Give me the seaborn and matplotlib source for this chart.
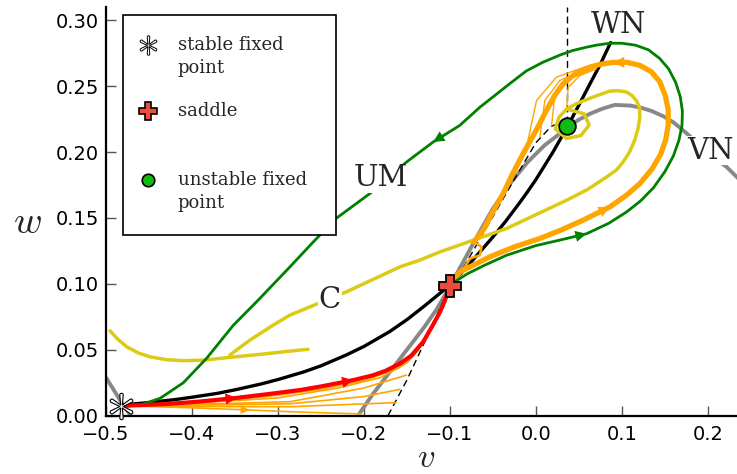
import matplotlib
matplotlib.use('Agg')
import matplotlib.pyplot as plt
import seaborn as sns
from matplotlib.patches import Rectangle

# ---------------- data ----------------
# w-nullcline (black, "WN")
wn_v = [-0.482, -0.45, -0.42, -0.40, -0.37, -0.35, -0.32, -0.30, -0.27, -0.25, -0.22, -0.20,
        -0.17, -0.15, -0.13, -0.115, -0.10, -0.085, -0.07, -0.05, -0.035, -0.02, -0.01,
        0.0, 0.01, 0.02, 0.037, 0.05, 0.062, 0.075, 0.087]
wn_w = [0.0080, 0.0100, 0.0122, 0.0140, 0.0170, 0.0196, 0.0240, 0.0274, 0.0332, 0.0378,
        0.0462, 0.0525, 0.0638, 0.0728, 0.0830, 0.0910, 0.0990, 0.1095, 0.1205, 0.1355,
        0.1475, 0.1605, 0.1695, 0.1790, 0.1895, 0.2000, 0.2195, 0.2355, 0.2505, 0.2665,
        0.2830]

# v-nullcline (gray, "VN"): left branch and right branch
vn_left_v = [-0.500, -0.4905, -0.481, -0.471, -0.467]
vn_left_w = [0.029, 0.019, 0.009, 0.000, -0.004]
vn_right_v = [-0.209, -0.19, -0.17, -0.15, -0.13, -0.115, -0.10, -0.085, -0.07, -0.05,
              -0.03, -0.01, 0.01, 0.025, 0.037, 0.05, 0.063, 0.078, 0.092, 0.11, 0.123,
              0.135, 0.148, 0.16, 0.17, 0.18, 0.19, 0.20, 0.211, 0.222, 0.24]
vn_right_w = [-0.002, 0.016, 0.033, 0.050, 0.067, 0.081, 0.098, 0.116, 0.134, 0.157,
              0.176, 0.192, 0.205, 0.2125, 0.219, 0.2245, 0.229, 0.233, 0.2357, 0.2352,
              0.2335, 0.231, 0.2272, 0.2225, 0.2172, 0.2115, 0.2055, 0.1995, 0.194,
              0.1886, 0.177]

# dashed guide lines
dash_v = [-0.172, -0.15, -0.125, -0.10, -0.088, -0.06, -0.03, 0.0, 0.018, 0.03]
dash_w = [0.000, 0.027, 0.062, 0.098, 0.108, 0.1397, 0.1736, 0.207, 0.2195, 0.2225]
vert_v = [0.0365, 0.0365]
vert_w = [0.222, 0.310]

# unstable manifold (green, "UM")
um_v = [-0.098, -0.08, -0.06, -0.034, 0.0, 0.03, 0.059, 0.085, 0.1055, 0.122, 0.137,
        0.150, 0.160, 0.1665, 0.170, 0.1705, 0.168, 0.1625, 0.1545, 0.144, 0.131, 0.116,
        0.100, 0.086, 0.070, 0.059, 0.043, 0.028, 0.008, -0.011, -0.03, -0.05, -0.065,
        -0.0884, -0.1194, -0.1504, -0.193, -0.2326, -0.26, -0.286, -0.3229, -0.352,
        -0.383, -0.41, -0.437, -0.46, -0.48]
um_w = [0.1000, 0.1075, 0.1140, 0.1217, 0.1290, 0.1335, 0.1380, 0.1460, 0.1545, 0.1630,
        0.1730, 0.1850, 0.1970, 0.2090, 0.2200, 0.2310, 0.2420, 0.2530, 0.2630, 0.2710,
        0.2775, 0.2810, 0.2825, 0.2825, 0.2810, 0.2795, 0.2770, 0.2735, 0.2680, 0.2615,
        0.2520, 0.2417, 0.2340, 0.2202, 0.2076, 0.1924, 0.1685, 0.1495, 0.1310, 0.1129,
        0.0877, 0.0685, 0.0435, 0.0250, 0.0132, 0.0081, 0.0072]

# red trajectory between saddle and stable point
red_v = [-0.100, -0.106, -0.112, -0.12, -0.131, -0.145, -0.158, -0.175, -0.19, -0.2124,
         -0.2473, -0.274, -0.31, -0.348, -0.39, -0.43, -0.48]
red_w = [0.098, 0.087, 0.078, 0.0685, 0.056, 0.0455, 0.0395, 0.034, 0.0305, 0.027,
         0.0225, 0.0195, 0.0165, 0.0135, 0.0108, 0.0088, 0.0075]

# thick orange loop
loop_v = [-0.098, -0.0884, -0.0535, -0.025, 0.0047, 0.03, 0.055, 0.086, 0.105, 0.121,
          0.135, 0.145, 0.151, 0.154, 0.154, 0.1505, 0.144, 0.134, 0.121, 0.106, 0.090,
          0.075, 0.063, 0.045, 0.0318, 0.022, 0.0124, 0.0, -0.0147, -0.027, -0.038,
          -0.05, -0.0613, -0.072]
loop_w = [0.100, 0.109, 0.1205, 0.128, 0.1344, 0.141, 0.1483, 0.1583, 0.167, 0.176,
          0.187, 0.198, 0.209, 0.2205, 0.232, 0.243, 0.2535, 0.261, 0.2657, 0.268, 0.268,
          0.2665, 0.2644, 0.259, 0.2518, 0.243, 0.2316, 0.216, 0.1988, 0.1835, 0.1685,
          0.1545, 0.1407, 0.132]
hook_v = [-0.072, -0.0632, -0.065, -0.0767, -0.085]
hook_w = [0.132, 0.128, 0.1217, 0.1192, 0.110]

# thin orange trajectories leaving the unstable point
t1_v = [0.0357, 0.0376, 0.0512, 0.0705]
t1_w = [0.2316, 0.249, 0.258, 0.263]
t2_v = [0.0182, 0.022, 0.0357, 0.0667]
t2_w = [0.220, 0.2417, 0.2543, 0.263]
t3_v = [0.0047, 0.0105, 0.028, 0.059]
t3_w = [0.2114, 0.2392, 0.2543, 0.263]
t4_v = [-0.0108, 0.0008, 0.024, 0.059]
t4_w = [0.2038, 0.239, 0.2568, 0.265]

# thin orange trajectories near the stable point
f1_v = [-0.127, -0.14, -0.16, -0.20, -0.25, -0.30, -0.38, -0.48]
f1_w = [0.0594, 0.047, 0.036, 0.0265, 0.020, 0.0155, 0.0105, 0.0075]
f2_v = [-0.137, -0.15, -0.18, -0.23, -0.30, -0.40, -0.48]
f2_w = [0.0492, 0.040, 0.029, 0.021, 0.0135, 0.0095, 0.0075]
f3_v = [-0.1504, -0.20, -0.286, -0.40, -0.48]
f3_w = [0.0308, 0.021, 0.0106, 0.0085, 0.0075]
f4_v = [-0.158, -0.20, -0.286, -0.40, -0.48]
f4_w = [0.020, 0.0145, 0.009, 0.008, 0.0075]
f5_v = [-0.1628, -0.286, -0.40, -0.48]
f5_w = [0.0099, 0.0068, 0.007, 0.0075]
f6_v = [-0.48, -0.40, -0.333, -0.286, -0.2027]
f6_w = [0.0075, 0.006, 0.0043, 0.003, 0.0013]

# yellow trajectories
y1_v = [-0.4953, -0.487, -0.476, -0.462, -0.449, -0.43, -0.41, -0.3849, -0.3597, -0.321,
        -0.2744, -0.265]
y1_w = [0.0644, 0.0585, 0.0523, 0.0475, 0.0447, 0.0425, 0.0417, 0.0422, 0.0440, 0.0465,
        0.0498, 0.0503]
y2_v = [-0.356, -0.3326, -0.3055, -0.286, -0.2201, -0.158, -0.1349, -0.1116, -0.034, 0.0357,
        0.06, 0.0822, 0.094, 0.1015, 0.109, 0.115, 0.119, 0.121, 0.1205, 0.117, 0.1115,
        0.1055, 0.096, 0.086, 0.0667, 0.0473, 0.0357, 0.056, 0.062, 0.0525, 0.0357,
        0.0225, 0.027, 0.0357]
y2_w = [0.046, 0.0573, 0.0687, 0.0763, 0.094, 0.1129, 0.118, 0.1242, 0.142, 0.1634,
        0.1715, 0.181, 0.1865, 0.1924, 0.200, 0.2089, 0.218, 0.2265, 0.234, 0.239, 0.243,
        0.2455, 0.2465, 0.2462, 0.2417, 0.2367, 0.2325, 0.229, 0.2205, 0.2125, 0.2102,
        0.2175, 0.2265, 0.2325]

# fixed points
stable_pt = (-0.4826, 0.0074)
saddle_pt = (-0.100, 0.098)
unstable_pt = (0.0365, 0.2200)

legend_labels = ["stable fixed\npoint", "saddle", "unstable fixed\npoint"]
curve_labels = ["UM", "C", "WN", "VN"]
x_ticks = [-0.5, -0.4, -0.3, -0.2, -0.1, 0.0, 0.1, 0.2]
y_ticks = [0.00, 0.05, 0.10, 0.15, 0.20, 0.25, 0.30]

# ---------------- styling ----------------
sns.set_theme(style='ticks')
plt.rcParams['font.family'] = ['DejaVu Sans']
plt.rcParams['mathtext.fontset'] = 'cm'

ORANGE = '#ffa500'
GREEN = '#008000'
YELLOW = '#dccb14'
GRAY = '#888888'

fig = plt.figure(figsize=(7.37, 4.74), dpi=100)
ax = fig.add_axes([0.1438, 0.1230, 0.8562, 0.8623])


def line(v, w, color, lw, z, **kw):
    sns.lineplot(x=v, y=w, sort=False, estimator=None, color=color,
                 linewidth=lw, ax=ax, zorder=z, solid_joinstyle='round',
                 solid_capstyle='round', **kw)


def arrow(v, w, i, j, color, size=20, z=5):
    # arrow head at point j, coming from point i of the same curve
    ax.annotate('', xy=(v[j], w[j]), xytext=(v[i], w[i]),
                arrowprops=dict(arrowstyle='-|>', color=color, lw=0,
                                mutation_scale=size, shrinkA=0, shrinkB=0),
                zorder=z)


line(vn_left_v, vn_left_w, GRAY, 2.8, 1)
line(vn_right_v, vn_right_w, GRAY, 2.8, 1)
line(wn_v, wn_w, 'black', 2.4, 2)
sns.lineplot(x=dash_v, y=dash_w, sort=False, estimator=None, color='black', linewidth=1.0,
             ax=ax, zorder=2, linestyle=(0, (5, 3)))
sns.lineplot(x=vert_v, y=vert_w, sort=False, estimator=None, color='black', linewidth=1.0,
             ax=ax, zorder=2, linestyle=(0, (5, 3)))

for fv, fw in [(f1_v, f1_w), (f2_v, f2_w), (f3_v, f3_w), (f4_v, f4_w), (f5_v, f5_w), (f6_v, f6_w)]:
    line(fv, fw, ORANGE, 1.2, 3)
for tv, tw in [(t1_v, t1_w), (t2_v, t2_w), (t3_v, t3_w), (t4_v, t4_w)]:
    line(tv, tw, ORANGE, 1.0, 3)

line(y1_v, y1_w, YELLOW, 2.5, 3)
line(y2_v, y2_w, YELLOW, 2.5, 3)
line(loop_v, loop_w, ORANGE, 3.8, 3.5)
line(hook_v, hook_w, ORANGE, 1.8, 3.5)
line(um_v, um_w, GREEN, 2.0, 4)
line(red_v, red_w, 'red', 3.0, 4)

# direction arrows (as drawn in the reference)
arrow(red_v, red_w, 14, 13, 'red')
arrow(red_v, red_w, 10, 9, 'red')
arrow(f6_v, f6_w, 1, 2, ORANGE, 16)
arrow(um_v, um_w, 5, 6, GREEN)
arrow(um_v, um_w, 33, 34, GREEN)
arrow(loop_v, loop_w, 6, 7, ORANGE)
arrow(loop_v, loop_w, 19, 20, ORANGE)

# fixed points
ax.plot(*stable_pt, marker='$*$', ms=19, mfc='white', mec='black', mew=0.8,
        ls='none', zorder=7, clip_on=False)
ax.plot(*saddle_pt, marker='P', ms=16, mfc='#ef4b3c', mec='black', mew=1.3,
        ls='none', zorder=7, clip_on=False)
ax.plot(*unstable_pt, marker='o', ms=12, mfc='#11bb11', mec='black', mew=1.3,
        ls='none', zorder=7, clip_on=False)

# curve labels
label_pos = [(-0.180, 0.180), (-0.2395, 0.0877), (0.0965, 0.296), (0.2035, 0.201)]
for txt, (lx, ly) in zip(curve_labels, label_pos):
    ax.text(lx, ly, txt, fontsize=21, family='DejaVu Serif', ha='center', va='center',
            bbox=dict(facecolor='white', edgecolor='none', pad=0.5), zorder=6)

# hand-made legend
ax.add_patch(Rectangle((0.027, 0.442), 0.3375, 0.538, transform=ax.transAxes,
                       facecolor='white', edgecolor='black', lw=1.2, zorder=8))
leg_y = [0.907, 0.7456, 0.577]
leg_markers = [dict(marker='$*$', ms=14, mfc='white', mec='black', mew=0.7),
               dict(marker='P', ms=13, mfc='#ef4b3c', mec='black', mew=1.2),
               dict(marker='o', ms=9, mfc='#11bb11', mec='black', mew=1.2)]
for yy, lab, mk in zip(leg_y, legend_labels, leg_markers):
    ax.plot([0.066], [yy], transform=ax.transAxes, ls='none', zorder=9, **mk)
    ax.text(0.1136, yy + 0.022, lab, transform=ax.transAxes, fontsize=13,
            family='DejaVu Serif', ha='left', va='top', linespacing=1.35, zorder=9)

# axes
ax.set_xlim(-0.5, 0.234)
ax.set_ylim(0.0, 0.31)
ax.set_xticks(x_ticks)
ax.set_yticks(y_ticks)
ax.set_xticklabels(['\u2212%.1f' % abs(t) if t < 0 else '%.1f' % t for t in x_ticks])
ax.set_yticklabels(['%.2f' % t for t in y_ticks])
ax.tick_params(direction='in', length=7, width=1, color='#555555', labelsize=14,
               labelcolor='black')
ax.tick_params(axis='x', pad=7)
ax.tick_params(axis='y', pad=5)
sns.despine(ax=ax)
for s in ['left', 'bottom']:
    ax.spines[s].set_color('black')
    ax.spines[s].set_linewidth(1.6)
ax.set_facecolor('white')
ax.set_xlabel('$v$', fontsize=25)
ax.set_ylabel('$w$', fontsize=28, rotation=0)
ax.xaxis.label.set_va('center')
ax.yaxis.label.set_va('center')
ax.xaxis.set_label_coords(0.507, -0.1)
ax.yaxis.set_label_coords(-0.124, 0.474)

fig.savefig('out.png', dpi=100, facecolor='white')
